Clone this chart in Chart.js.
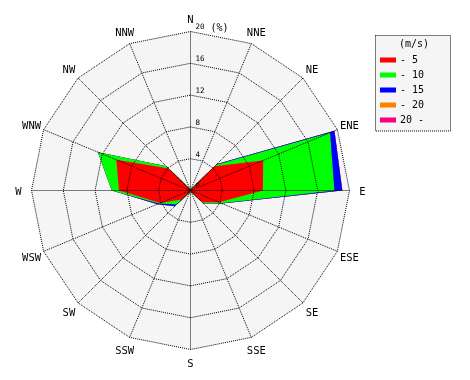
<!DOCTYPE html>
<html>
<head>
<meta charset="utf-8">
<script src="https://cdn.jsdelivr.net/npm/chart.js@4/dist/chart.umd.min.js"></script>
<style>
html,body{margin:0;padding:0;background:#ffffff;}
#wrap{width:470px;height:380px;position:relative;}
</style>
</head>
<body>
<div id="wrap"><canvas id="c" width="470" height="380"></canvas></div>
<script>
// ---- data ----
const directions = ['N','NNE','NE','ENE','E','ESE','SE','SSE','S','SSW','SW','WSW','W','WNW','NW','NNW'];
const speedBands = ['- 5','- 10','- 15','- 20','20 -'];
const bandColors = ['#ff0000','#00ff00','#0000ff','#ff8000','#ff0080'];
// frequency (%) of each speed band per direction
const freqTo5   = [0, 0.2, 4.3, 9.9, 9.1, 3.9, 2.1, 0.2, 0, 0.3, 1.6, 4.1, 9.0, 10.1, 3.9, 0.2];
const freqTo10  = [0, 0.1, 0.3, 9.1, 9.0, 0.3, 0.2, 0.1, 0, 0.1, 0.9, 0.2, 0.9, 2.5, 0.4, 0.1];
const freqTo15  = [0, 0, 0.1, 0.6, 1.0, 0.1, 0, 0, 0, 0, 0.3, 0.2, 0, 0, 0, 0];
const freqTo20  = [0, 0, 0, 0, 0, 0, 0, 0, 0, 0, 0, 0, 0, 0, 0, 0];
const freqOver20= [0, 0, 0, 0, 0, 0, 0, 0, 0, 0, 0, 0, 0, 0, 0, 0];
const radialTicks = [0, 4, 8, 12, 16, 20];
const unitLabel = '(%)';
const legendTitle = '(m/s)';

// ---- build stacked (cumulative) series ----
const bands = [freqTo5, freqTo10, freqTo15, freqTo20, freqOver20];
const cumulative = [];
bands.forEach((b, k) => {
  cumulative.push(b.map((v, i) => (k === 0 ? 0 : cumulative[k - 1][i]) + v));
});

const datasets = bands.map((b, k) => ({
  label: speedBands[k],
  data: cumulative[k].map(v => +v.toFixed(3)),
  backgroundColor: bandColors[k],
  borderColor: bandColors[k],
  borderWidth: 0,
  pointRadius: 0,
  pointHoverRadius: 0,
  fill: 'origin',
  tension: 0
}));

const BG = '#f5f5f5';
const MONO = '"DejaVu Sans Mono", "Liberation Mono", monospace';

const decorPlugin = {
  id: 'decor',
  beforeDatasetsDraw(chart) {
    const s = chart.scales.r;
    const ctx = chart.ctx;
    ctx.save();
    ctx.beginPath();
    for (let i = 0; i < directions.length; i++) {
      const p = s.getPointPosition(i, s.drawingArea);
      if (i === 0) ctx.moveTo(p.x, p.y); else ctx.lineTo(p.x, p.y);
    }
    ctx.closePath();
    ctx.fillStyle = BG;
    ctx.fill();
    ctx.restore();
  },
  afterDraw(chart) {
    const s = chart.scales.r;
    const ctx = chart.ctx;
    ctx.save();
    // direction labels
    ctx.fillStyle = '#000';
    ctx.font = '10.5px ' + MONO;
    ctx.textAlign = 'center';
    ctx.textBaseline = 'middle';
    for (let i = 0; i < directions.length; i++) {
      const p = s.getPointPosition(i, s.drawingArea + 13);
      ctx.fillText(directions[i], p.x, p.y + 1.5);
    }
    // radial tick labels
    ctx.textAlign = 'left';
    radialTicks.forEach(v => {
      const d = s.getDistanceFromCenterForValue(v);
      const y = s.yCenter - d - 4;
      ctx.font = '7.5px ' + MONO;
      ctx.fillText(String(v), s.xCenter + 5, y);
      if (v === radialTicks[radialTicks.length - 1]) {
        ctx.font = '10px ' + MONO;
        ctx.fillText(unitLabel, s.xCenter + 20, y + 0.5);
      }
    });
    // legend box
    const lx = 375.5, ly = 35.5, lw = 75, lh = 95.5;
    ctx.fillStyle = BG;
    ctx.fillRect(lx, ly, lw, lh);
    ctx.strokeStyle = '#000';
    ctx.lineWidth = 1;
    ctx.setLineDash([1, 1]);
    ctx.strokeRect(lx, ly, lw, lh);
    ctx.setLineDash([]);
    ctx.fillStyle = '#000';
    ctx.font = '10px ' + MONO;
    ctx.textAlign = 'center';
    ctx.fillText(legendTitle, 414, 44);
    ctx.textAlign = 'left';
    chart.data.datasets.forEach((ds, k) => {
      const y = 60 + 15 * k;
      ctx.fillStyle = ds.backgroundColor;
      ctx.fillRect(380, y - 2.5, 16, 5);
      ctx.fillStyle = '#000';
      ctx.fillText(ds.label, 400, y);
    });
    ctx.restore();
  }
};

new Chart(document.getElementById('c'), {
  type: 'radar',
  data: { labels: directions, datasets },
  options: {
    responsive: false,
    animation: false,
    devicePixelRatio: 1,
    layout: { padding: { left: 31, top: 31, right: 121, bottom: 31 } },
    plugins: { legend: { display: false }, tooltip: { enabled: false } },
    elements: { line: { borderWidth: 0, tension: 0 }, point: { radius: 0 } },
    scales: {
      r: {
        min: radialTicks[0],
        max: radialTicks[radialTicks.length - 1],
        ticks: { display: false, stepSize: radialTicks[1] - radialTicks[0] },
        pointLabels: { display: false },
        grid: { color: '#000', lineWidth: 1, z: 1, borderDash: [1, 1], circular: false },
        border: { dash: [1, 1] },
        angleLines: { color: '#000', lineWidth: 1, borderDash: [1, 1] },
        afterFit(scale) {
          scale.xCenter = 190.5;
          scale.yCenter = 190.5;
          scale.drawingArea = 159;
        }
      }
    }
  },
  plugins: [decorPlugin]
});
</script>
</body>
</html>
